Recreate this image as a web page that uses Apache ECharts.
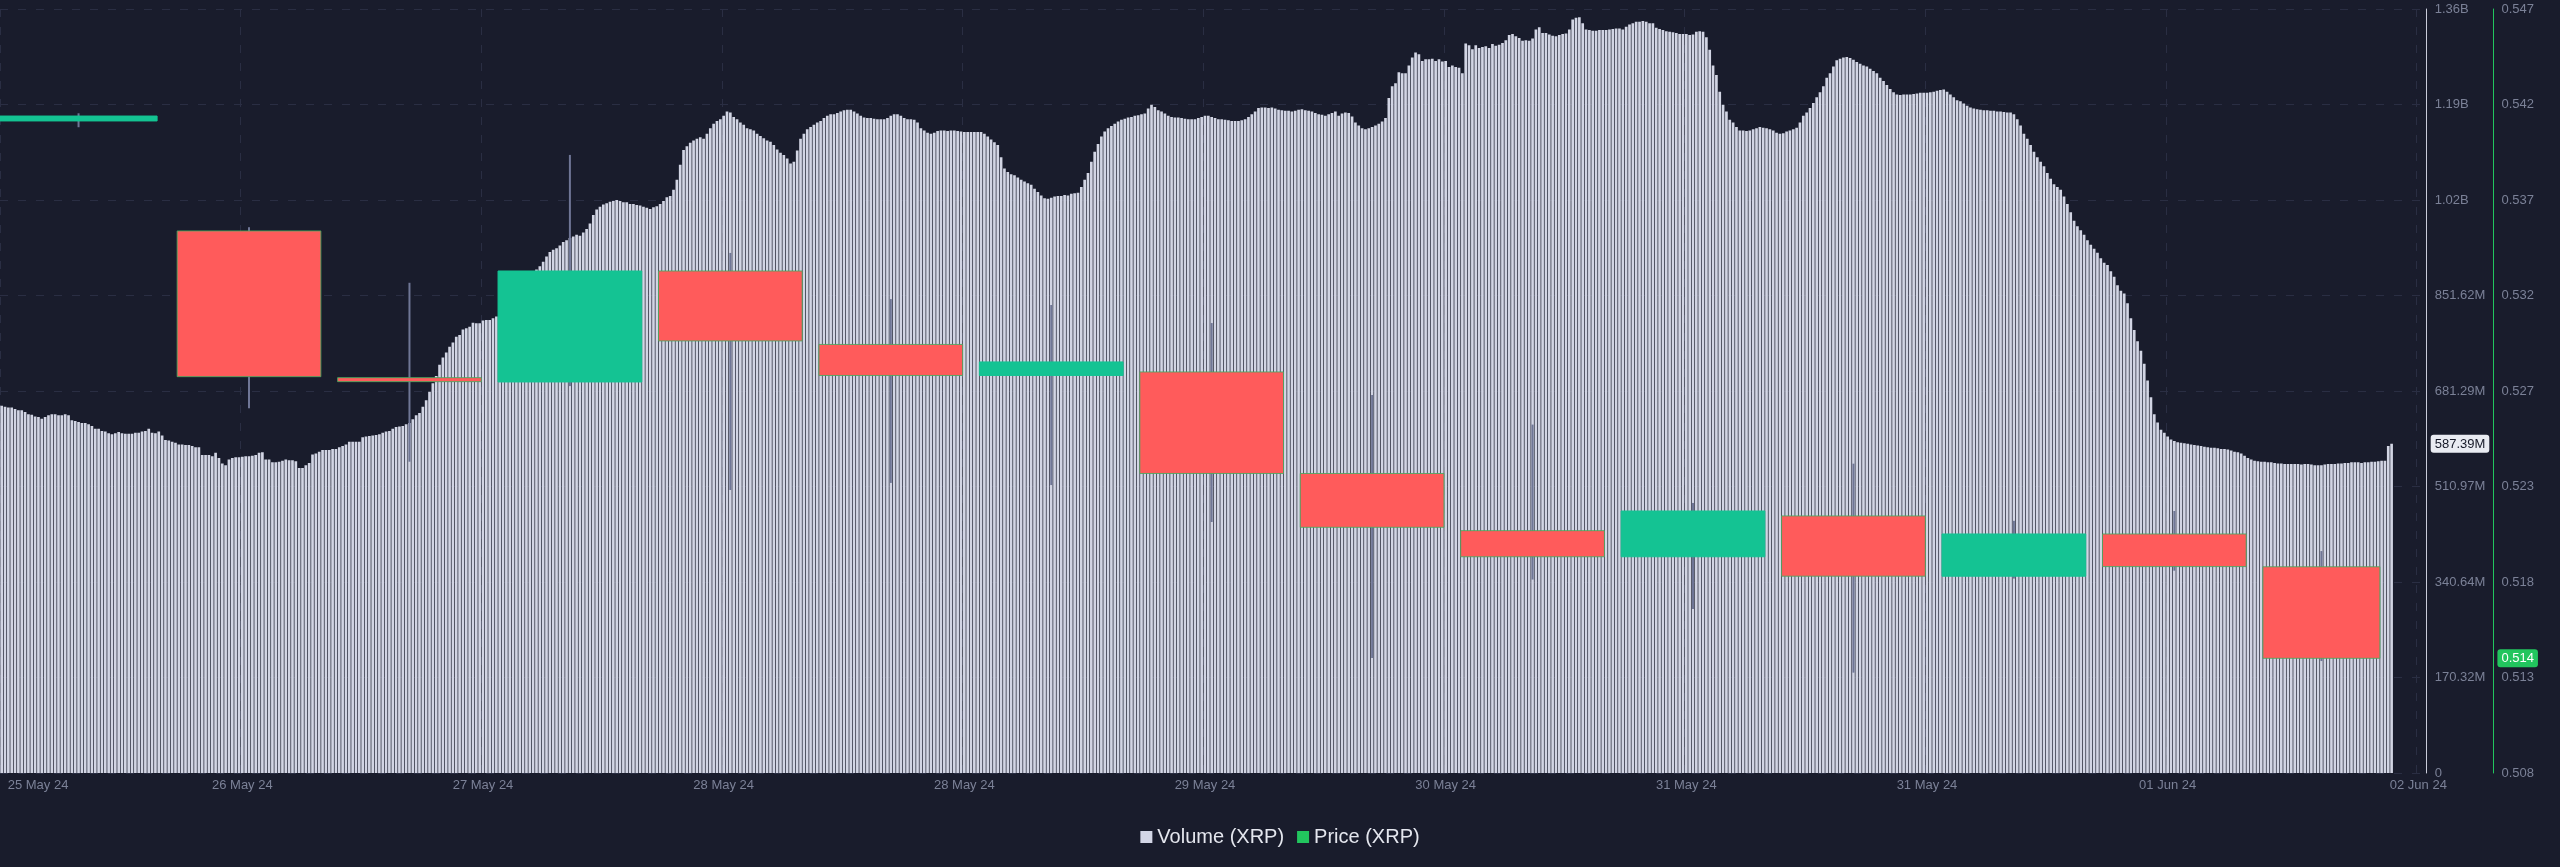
<!DOCTYPE html>
<html>
<head>
<meta charset="utf-8">
<style>
html,body{margin:0;padding:0;background:#191c2c;}
#chart{width:2560px;height:867px;}
</style>
<script src="https://cdn.jsdelivr.net/npm/echarts@6.0.0/dist/echarts.min.js"></script>
</head>
<body>
<div id="chart"></div>
<script>
// ---- tick labels ----
const xTickLabels = ['25 May 24','26 May 24','27 May 24','28 May 24','28 May 24','29 May 24','30 May 24','31 May 24','31 May 24','01 Jun 24','02 Jun 24'];
const volTickLabels = ['0','170.32M','340.64M','510.97M','681.29M','851.62M','1.02B','1.19B','1.36B'];
const priceTickLabels = ['0.508','0.513','0.518','0.523','0.527','0.532','0.537','0.542','0.547'];

// ---- volume (XRP), millions, one value per 15-minute slot ----
const volumes = [
655,653,652,652,649,647,647,644,640,639,
636,635,632,635,638,640,640,638,638,640,
638,629,628,626,624,624,622,619,614,614,
610,609,606,604,606,608,606,605,605,605,
607,607,609,610,614,607,606,609,602,594,
593,591,589,586,586,585,585,583,581,581,
567,567,567,565,571,562,552,549,559,562,
563,563,564,565,565,566,567,571,572,559,
559,554,554,555,557,559,558,558,556,544,
544,549,553,568,570,573,576,576,576,578,
578,581,583,586,591,591,591,591,599,600,
601,602,603,604,607,609,610,614,617,618,
619,622,624,631,638,642,653,665,680,695,
708,728,741,750,760,768,778,781,791,793,
796,803,802,802,807,808,808,811,814,814,
816,819,826,833,835,846,857,866,879,891,
898,904,912,921,929,933,936,941,947,950,
954,957,960,958,964,970,980,995,1005,1010,
1014,1016,1019,1020,1022,1020,1018,1018,1015,1015,
1013,1012,1010,1008,1006,1009,1011,1015,1020,1027,
1029,1040,1058,1085,1111,1118,1124,1128,1131,1134,
1131,1140,1150,1158,1163,1166,1172,1180,1178,1170,
1166,1160,1156,1150,1148,1146,1140,1136,1132,1128,
1126,1120,1112,1106,1102,1096,1087,1090,1110,1131,
1140,1148,1152,1156,1160,1163,1168,1172,1175,1175,
1177,1180,1182,1183,1183,1180,1176,1172,1169,1168,
1168,1167,1166,1166,1166,1168,1172,1175,1175,1172,
1168,1166,1166,1165,1160,1150,1146,1142,1140,1142,
1145,1146,1146,1145,1146,1146,1145,1144,1143,1143,
1143,1143,1143,1143,1140,1135,1130,1125,1120,1098,
1078,1072,1068,1066,1062,1058,1055,1052,1049,1042,
1036,1030,1025,1024,1026,1028,1029,1029,1031,1030,
1033,1034,1035,1045,1058,1070,1090,1108,1122,1135,
1144,1150,1154,1158,1162,1165,1167,1169,1170,1172,
1173,1175,1176,1185,1192,1188,1182,1180,1176,1172,
1170,1169,1169,1168,1167,1166,1166,1166,1168,1170,
1172,1172,1170,1168,1166,1166,1165,1164,1163,1163,
1163,1164,1166,1170,1175,1180,1186,1187,1187,1186,
1187,1185,1183,1182,1181,1181,1180,1181,1183,
1184,1182,1181,1180,1177,1175,1174,1172,1175,1177,
1180,1172,1176,1178,1177,1171,1160,1155,1150,1148,
1150,1152,1155,1158,1162,1168,1204,1225,1230,1250,
1248,1248,1262,1276,1285,1282,1270,1273,1273,1274,
1270,1273,1269,1270,1259,1262,1259,1258,1248,1301,
1298,1291,1298,1293,1295,1296,1293,1300,1297,1299,
1302,1307,1316,1318,1314,1311,1306,1307,1306,1310,
1326,1330,1320,1320,1317,1315,1314,1316,1318,1319,
1326,1344,1347,1348,1337,1326,1325,1324,1324,1325,
1325,1325,1326,1327,1328,1328,1326,1331,1335,1337,
1340,1340,1341,1340,1337,1337,1329,1327,1325,1323,
1322,1321,1320,1318,1318,1318,1316,1317,1322,1323,
1322,1312,1290,1262,1245,1215,1192,1180,1165,1160,
1152,1146,1146,1145,1146,1148,1150,1152,1151,1150,
1148,1146,1142,1140,1141,1144,1146,1148,1151,1160,
1172,1178,1186,1195,1205,1214,1225,1240,1248,1260,
1271,
1274,1276,1277,1275,1272,1268,1265,1262,1260,1256,
1252,1248,1240,1234,1227,1220,1214,1210,1209,1210,
1210,1210,1211,1212,1213,1213,1213,1214,1215,1217,
1218,1219,1215,1210,1205,1200,1198,1194,1190,1187,
1185,1184,1183,1182,1182,1181,1181,1180,1180,1179,
1178,1178,1175,1166,1155,1140,1131,1120,1108,1098,
1090,1082,1070,1060,1050,1045,1040,1028,1015,1000,
985,975,968,960,950,942,935,928,918,910,
906,895,885,870,860,855,838,811,790,770,
753,730,700,670,640,625,612,607,600,595,
592,590,589,588,587,586,585,584,583,582,
581,580,580,579,578,578,577,575,573,572,
570,566,562,559,557,556,555,555,554,554,
553,552,552,551,551,551,551,551,550,551,
551,550,549,549,549,550,551,551,551,552,
552,553,553,554,554,554,553,554,554,555,
555,556,557,557,583,587.39
];

// ---- price (XRP) candles: slot where each candle starts / ends, OHLC ----
const candleStart = [0,53,101,149,197,245,293,341,389,437,485,533,581,629,677];
const candleEnd   = [46,95,143,191,239,287,335,383,431,479,527,575,623,671,711];
const candleOpen  = [0.54120,0.53560,0.52813,0.52791,0.53356,0.52982,0.52824,0.52842,0.52325,0.52034,0.51901,0.52109,0.51802,0.52017,0.51850];
const candleClose = [0.54145,0.52818,0.52796,0.53356,0.53000,0.52824,0.52893,0.52325,0.52051,0.51901,0.52134,0.51802,0.52017,0.51851,0.51384];
const candleLow   = [0.54088,0.52657,0.52385,0.52770,0.52241,0.52277,0.52266,0.52078,0.51386,0.51785,0.51635,0.51311,0.51790,0.51830,0.51370];
const candleHigh  = [0.54159,0.53579,0.53296,0.53947,0.53448,0.53213,0.53183,0.53091,0.52725,0.52574,0.52175,0.52375,0.52084,0.52134,0.51930];

const SLOT_COUNT = 726;          // 15-minute slots on the time axis
const LABEL_EVERY = 72;          // a date label every 18 hours
const LAST_LABEL_SLOT = 723;
const VOL_MAX = 1362.5864, VOL_INT = 170.3233;
const PRICE_MIN = 0.508, PRICE_MAX = 0.5469, PRICE_INT = 0.0048625;

const slots = Array.from({length: SLOT_COUNT}, (_, i) => i);
const candleData = candleStart.map((s, i) => [s, candleEnd[i], candleOpen[i], candleClose[i], candleLow[i], candleHigh[i]]);

const FONT = '"Liberation Sans", Arial, sans-serif';
const LABEL_COLOR = '#7b8197';
const GRID_LINE = {color: '#2a2e43', width: 1, type: [8, 10]};

function showXLabel(index) {
  return (index < 720 && index % LABEL_EVERY === 0) || index === LAST_LABEL_SLOT;
}

function renderCandle(params, api) {
  const s = api.value(0), e = api.value(1);
  const o = api.value(2), c = api.value(3), l = api.value(4), h = api.value(5);
  const band = api.size([1, 0])[0];
  const pO = api.coord([s, o]);
  const xs = pO[0] - band / 2;
  const xe = api.coord([e, o])[0] + band / 2;
  const yO = pO[1];
  const yC = api.coord([s, c])[1];
  const yL = api.coord([s, l])[1];
  const yH = api.coord([s, h])[1];
  const xm = (xs + xe) / 2;
  const up = c >= o;
  const top = Math.min(yO, yC);
  const hgt = Math.max(Math.abs(yO - yC), 4);
  return {
    type: 'group',
    children: [
      {type: 'line', shape: {x1: xm, y1: yH, x2: xm, y2: yL}, style: {stroke: '#6f7696', lineWidth: 2}},
      {type: 'rect', shape: {x: xs, y: top, width: xe - xs, height: hgt},
       style: {fill: up ? '#14c393' : '#ff5b5b', stroke: up ? '#14c393' : 'rgba(70,170,95,0.85)', lineWidth: 1}}
    ]
  };
}

const chart = echarts.init(document.getElementById('chart'), null, {renderer: 'canvas'});
chart.setOption({
  backgroundColor: '#191c2c',
  animation: false,
  textStyle: {fontFamily: FONT},
  grid: {left: 0, right: 133.3, top: 9, bottom: 94, containLabel: false, outerBoundsMode: 'none'},
  legend: {
    left: 'center', top: 822,
    itemWidth: 12, itemHeight: 12, itemGap: 13,
    textStyle: {color: '#e4e6ee', fontSize: 20, fontFamily: FONT},
    data: [
      {name: 'Volume (XRP)', icon: 'rect', itemStyle: {color: '#d3d6e6'}},
      {name: 'Price (XRP)', icon: 'rect', itemStyle: {color: '#22c55e'}}
    ]
  },
  xAxis: {
    type: 'category',
    data: slots,
    boundaryGap: true,
    axisLine: {show: false},
    axisTick: {show: false},
    axisLabel: {
      interval: (idx) => showXLabel(idx),
      formatter: (v, idx) => idx === 0 ? '{first|' + xTickLabels[0] + '}'
        : (idx === LAST_LABEL_SLOT ? xTickLabels[xTickLabels.length - 1] : xTickLabels[idx / LABEL_EVERY]),
      rich: {first: {padding: [0, 0, 0, 6], color: LABEL_COLOR, fontSize: 13, fontFamily: FONT}},
      color: LABEL_COLOR, fontSize: 13, margin: 6, fontFamily: FONT,
      alignMinLabel: 'left'
    },
    splitLine: {show: true, interval: (idx) => showXLabel(idx), lineStyle: GRID_LINE}
  },
  yAxis: [
    {
      type: 'value', position: 'right', offset: 0,
      min: 0, max: VOL_MAX, interval: VOL_INT,
      axisLine: {show: true, lineStyle: {color: '#c9ccda', width: 1}},
      axisTick: {show: false},
      axisLabel: {
        color: LABEL_COLOR, fontSize: 13, margin: 8, fontFamily: FONT,
        formatter: (v) => volTickLabels[Math.round(v / VOL_INT)]
      },
      splitLine: {show: true, lineStyle: GRID_LINE},
      axisPointer: {
        show: true, type: 'line', status: 'show', triggerTooltip: false,
        value: volumes[volumes.length - 1],
        lineStyle: {opacity: 0, width: 0},
        label: {
          show: true, margin: 4, padding: [3, 4, 2, 4],
          backgroundColor: '#e9ebf2', color: '#151827', fontSize: 13, fontFamily: FONT,
          formatter: (p) => Number(p.value).toFixed(2) + 'M'
        }
      }
    },
    {
      type: 'value', position: 'right', offset: 66.7,
      min: PRICE_MIN, max: PRICE_MAX, interval: PRICE_INT,
      axisLine: {show: true, lineStyle: {color: '#22c55e', width: 1}},
      axisTick: {show: false},
      axisLabel: {
        color: LABEL_COLOR, fontSize: 13, margin: 8, fontFamily: FONT,
        formatter: (v) => priceTickLabels[Math.round((v - PRICE_MIN) / PRICE_INT)]
      },
      splitLine: {show: false},
      axisPointer: {
        show: true, type: 'line', status: 'show', triggerTooltip: false,
        value: candleClose[candleClose.length - 1],
        lineStyle: {opacity: 0, width: 0},
        label: {
          show: true, margin: 4, padding: [3, 4, 2, 4],
          backgroundColor: '#22c55e', color: '#ffffff', fontSize: 13, fontFamily: FONT,
          formatter: (p) => Number(p.value).toFixed(3)
        }
      }
    }
  ],
  series: [
    {
      name: 'Volume (XRP)',
      type: 'bar',
      xAxisIndex: 0, yAxisIndex: 0,
      data: volumes,
      barWidth: '80%',
      itemStyle: {color: '#d2d5e4'},
      z: 2,
      silent: true
    },
    {
      name: 'Price (XRP)',
      type: 'custom',
      xAxisIndex: 0, yAxisIndex: 1,
      renderItem: renderCandle,
      encode: {x: [0, 1], y: [2, 3, 4, 5]},
      data: candleData,
      itemStyle: {color: '#22c55e'},
      clip: false,
      z: 5,
      silent: true
    }
  ]
});
</script>
</body>
</html>
